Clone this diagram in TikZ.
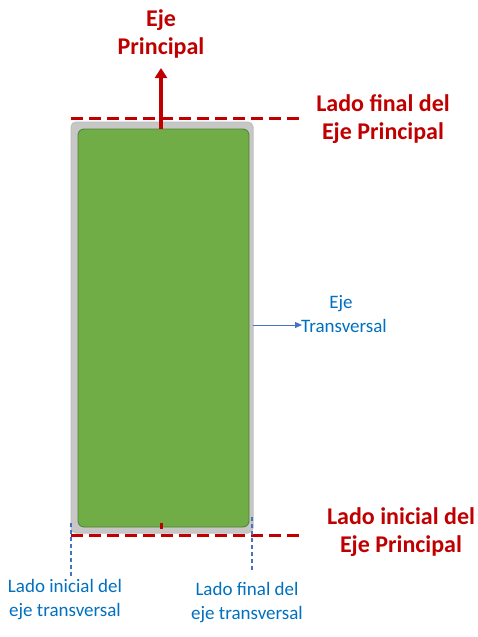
\documentclass[tikz,border=0pt]{standalone}
\usepackage{fontspec}
\setmainfont{Carlito}
\usetikzlibrary{arrows.meta}
\definecolor{redd}{HTML}{C00000}
\definecolor{bluet}{HTML}{0070C0}
\definecolor{bluel}{HTML}{4472C4}
\definecolor{greenf}{HTML}{70AD47}
\definecolor{greend}{HTML}{507E32}
\tikzset{
  redlabel/.style={text=redd, font=\bfseries\fontsize{24}{28}\selectfont, align=center, inner sep=0pt},
  bluelabel/.style={text=bluet, font=\fontsize{19}{24}\selectfont, align=center, inner sep=0pt},
  reddash/.style={draw=redd, line width=3pt, dash pattern=on 12pt off 6pt},
  bluedash/.style={draw=bluel, line width=1.2pt, dash pattern=on 4pt off 3pt},
}
\begin{document}
\begin{tikzpicture}[x=1pt,y=-1pt]
\useasboundingbox (0,0) rectangle (478,637);
\fill[white] (0,0) rectangle (478,637);
% outer gray box
\node[draw=gray!50, fill=black!22, line width=1pt, rounded corners=5pt, minimum width=182pt, minimum height=411pt, inner sep=0pt] (outer) at (162,327.5) {};
% inner green
\node[draw=greend, fill=greenf, line width=0.8pt, rounded corners=6pt, minimum width=171pt, minimum height=398pt, inner sep=0pt] (inner) at (163.5,328) {};
% red dashed lines
\coordinate (t1) at (71,118); \coordinate (t2) at (302,118);
\coordinate (b1) at (71,535); \coordinate (b2) at (302,535);
\draw[reddash] (t1) -- (t2);
\draw[reddash] (b1) -- (b2);
% red arrow
\coordinate (as) at (161,129); \coordinate (ae) at (161,68);
\draw[redd, line width=4pt, -{Triangle[length=10pt,width=12pt]}] (as) -- (ae);
\coordinate (m1) at (161,523); \coordinate (m2) at (161,529);
\draw[redd, line width=3pt] (m1) -- (m2);
% labels red
\node[redlabel] (ejep) at (161,34) {Eje\\Principal};
\node[redlabel] (lfin) at (383,119) {Lado final del\\Eje Principal};
\node[redlabel] (lini) at (401,532) {Lado inicial del\\Eje Principal};
% blue arrow
\coordinate (bs) at (253,325); \coordinate (be) at (302,325);
\draw[bluel, line width=0.8pt, -{Triangle[length=7pt,width=6pt]}] (bs) -- (be);
\node[bluelabel] (ejet1) at (341,304) {Eje};
\node[bluelabel, anchor=west] (ejet2) at (301,326) {Transversal};
% blue dashed
\coordinate (l1) at (71,523); \coordinate (l2) at (71,578);
\coordinate (r1) at (252,517); \coordinate (r2) at (252,572);
\draw[bluedash] (l1) -- (l2);
\draw[bluedash] (r1) -- (r2);
\node[bluelabel] (tini) at (65,600) {Lado inicial del\\eje transversal};
\node[bluelabel] (tfin) at (247,603) {Lado final del\\eje transversal};
\end{tikzpicture}
\end{document}
